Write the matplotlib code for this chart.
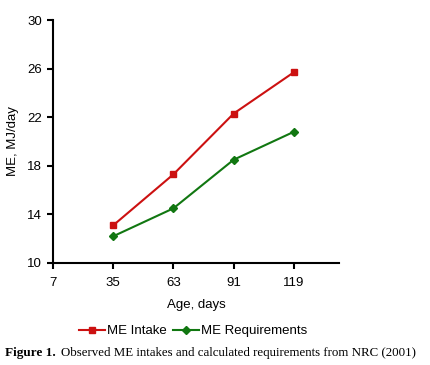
import matplotlib
matplotlib.use("Agg")
import matplotlib.pyplot as plt

age = [35, 63, 91, 119]
me_intake = [13.1, 17.3, 22.3, 25.7]
me_req = [12.2, 14.5, 18.5, 20.8]
xticks = [7, 35, 63, 91, 119]
yticks = [10, 14, 18, 22, 26, 30]

plt.rcParams['font.family'] = ['Liberation Sans', 'DejaVu Sans']

fig = plt.figure(figsize=(4.3, 3.65), dpi=100)
ax = fig.add_axes([0.1233, 0.2795, 0.665, 0.6655])

red = '#CC1111'
green = '#117711'
l1, = ax.plot(age, me_intake, color=red, lw=1.5, marker='s', ms=5, label='ME Intake')
l2, = ax.plot(age, me_req, color=green, lw=1.5, marker='D', ms=4, label='ME Requirements')

fs = 9.5
ax.set_xlim(7, 140)
ax.set_ylim(10, 30)
ax.set_xticks(xticks)
ax.set_yticks(yticks)
for s in ['top', 'right']:
    ax.spines[s].set_visible(False)
for s in ['left', 'bottom']:
    ax.spines[s].set_linewidth(1.5)
ax.tick_params(direction='out', length=4, width=1.5, labelsize=fs, pad=4)
ax.tick_params(axis='x', pad=6)
ax.set_xlabel('Age, days', fontsize=fs, labelpad=7)
ax.set_ylabel('ME, MJ/day', fontsize=fs, labelpad=6)

fig.legend(handles=[l1, l2], loc='center', bbox_to_anchor=(193/430, 1 - 331/365),
           ncol=2, frameon=False, fontsize=fs, handlelength=2.0,
           handletextpad=0.1, columnspacing=0.5)

fig.text(0.012, 1 - 353/365, 'Figure 1.', fontsize=9.5, fontweight='bold',
         family='Liberation Serif', va='center', ha='left')
fig.text(0.142, 1 - 353/365, 'Observed ME intakes and calculated requirements from NRC (2001)',
         fontsize=9.3, family='Liberation Serif', va='center', ha='left')

fig.savefig('out.png', dpi=100)
